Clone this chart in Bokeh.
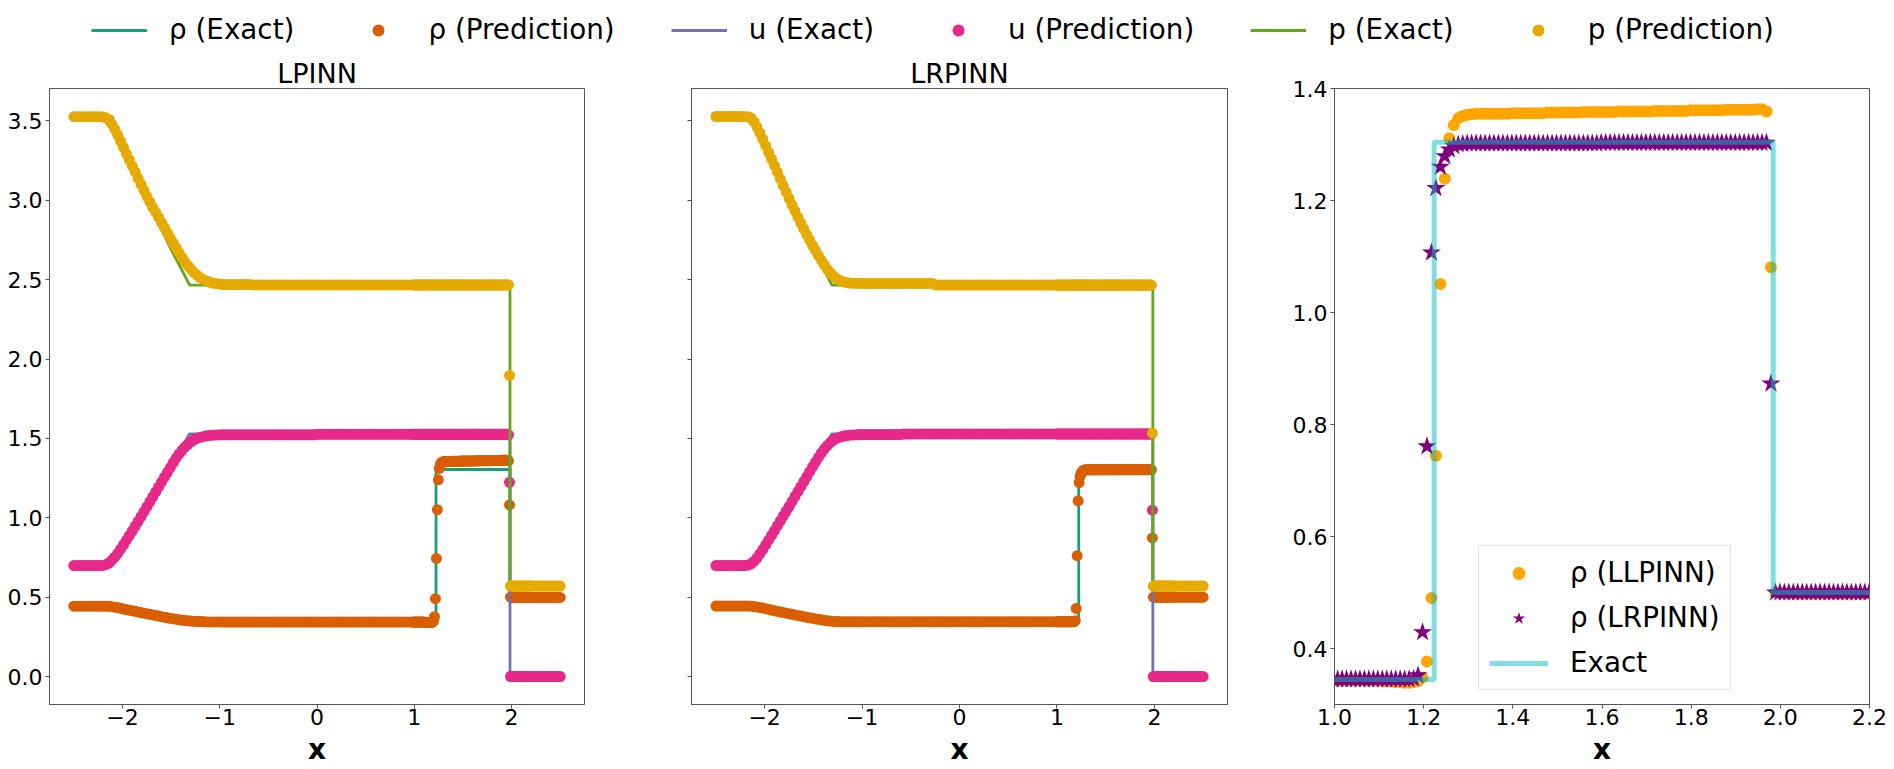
import numpy as np
from bokeh.plotting import figure
from bokeh.models import Legend, LegendItem, FixedTicker, Range1d, CustomJSTickFormatter
from bokeh.layouts import column, row
from bokeh.embed import file_html
from bokeh.resources import INLINE

# ---------------- data ----------------
# PINN sampling grid (500 points on [-2.5, 2.5]); the predictions are shown at a subset of it
x_grid = np.linspace(-2.5, 2.5, 500)
pred_index = np.r_[0:30:3, 30:141:3, 141:349:3, 349:470, 471:500:2]
zoom_index = np.arange(349, 470)          # the points with 1.0 <= x <= 2.2

# exact solution (vertices)
x_rho_exact = [-2.5, -2.107, -1.9, -1.7, -1.5, -1.309, 1.2235, 1.2235, 1.984, 1.984, 2.5]
rho_exact = [0.445, 0.445, 0.417, 0.391, 0.367, 0.3445, 0.3445, 1.304, 1.304, 0.5, 0.5]
x_u_exact = [-2.5, -2.107, -1.309, 1.984, 1.984, 2.5]
u_exact = [0.698, 0.698, 1.529, 1.529, 0.0, 0.0]
x_p_exact = [-2.5, -2.107, -1.9, -1.7, -1.5, -1.309, 1.984, 1.984, 2.5]
p_exact = [3.528, 3.528, 3.221, 2.946, 2.691, 2.466, 2.466, 0.571, 0.571]

# ---- LPINN (left panel) predictions ----
rho_lp_rare = [0.443, 0.443, 0.442, 0.440, 0.437, 0.434, 0.430, 0.426, 0.422, 0.418,
               0.415, 0.411, 0.407, 0.403, 0.399, 0.396, 0.392, 0.388, 0.385, 0.381,
               0.377, 0.374, 0.370, 0.367, 0.364, 0.361, 0.358, 0.355, 0.353, 0.351,
               0.349, 0.348, 0.347, 0.346, 0.346, 0.345, 0.344]
rho_lp_zoom = ([0.343] * 11 + [0.342, 0.341, 0.341, 0.340]
               + [0.340, 0.339, 0.339, 0.340, 0.342, 0.348, 0.377, 0.490, 0.744, 1.051,
                  1.239, 1.311, 1.335, 1.347, 1.351, 1.353, 1.354]
               + [1.355] * 8 + [1.356] * 8 + [1.357] * 8 + [1.358] * 8 + [1.359] * 8
               + [1.360] * 8 + [1.361] * 8 + [1.362] * 7
               + [1.363, 1.363, 1.359, 1.081, 0.500, 0.499, 0.499] + [0.498] * 19)
u_lp_rare = [0.700, 0.705, 0.715, 0.732, 0.752, 0.776, 0.803, 0.830, 0.859, 0.888,
             0.918, 0.948, 0.978, 1.008, 1.039, 1.070, 1.101, 1.132, 1.163, 1.194,
             1.225, 1.256, 1.286, 1.316, 1.348, 1.376, 1.402, 1.425, 1.446, 1.463,
             1.478, 1.490, 1.499, 1.506, 1.511, 1.515, 1.518]
u_lp_zoom = [1.526] * 97 + [1.522, 1.223] + [0.0] * 22
p_lp_rare = [3.525, 3.520, 3.505, 3.480, 3.448, 3.412, 3.372, 3.333, 3.293, 3.254,
             3.215, 3.177, 3.138, 3.100, 3.062, 3.025, 2.990, 2.955, 2.924, 2.892,
             2.860, 2.828, 2.795, 2.763, 2.732, 2.700, 2.670, 2.640, 2.612, 2.588,
             2.566, 2.546, 2.530, 2.515, 2.503, 2.494, 2.487]
p_lp_zoom = [2.467] * 98 + [1.897] + [0.570] * 22

# ---- LRPINN (middle panel) predictions ----
rho_lr_rare = [0.444, 0.444, 0.443, 0.441, 0.438, 0.435, 0.431, 0.427, 0.423, 0.419,
               0.415, 0.411, 0.407, 0.403, 0.399, 0.396, 0.392, 0.388, 0.385, 0.381,
               0.377, 0.374, 0.370, 0.367, 0.363, 0.360, 0.357, 0.354, 0.351, 0.349,
               0.347, 0.346, 0.346, 0.345, 0.345, 0.345, 0.345]
rho_lr_zoom = ([0.345] * 18
               + [0.346, 0.352, 0.429, 0.761, 1.107, 1.222, 1.260, 1.279, 1.291, 1.297,
                  1.300, 1.301]
               + [1.302] * 30 + [1.303] * 38 + [0.873] + [0.500] * 22)
u_lr_rare = [0.699, 0.702, 0.710, 0.725, 0.746, 0.772, 0.800, 0.829, 0.859, 0.889,
             0.919, 0.950, 0.980, 1.011, 1.041, 1.072, 1.103, 1.134, 1.165, 1.196,
             1.227, 1.258, 1.289, 1.320, 1.350, 1.380, 1.408, 1.433, 1.455, 1.473,
             1.487, 1.498, 1.506, 1.512, 1.516, 1.519, 1.521]
u_lr_zoom = [1.528] * 98 + [1.048] + [0.0] * 22
p_lr_rare = [3.527, 3.526, 3.518, 3.495, 3.462, 3.425, 3.385, 3.344, 3.302, 3.260,
             3.219, 3.177, 3.135, 3.093, 3.052, 3.011, 2.971, 2.932, 2.894, 2.856,
             2.820, 2.784, 2.750, 2.716, 2.684, 2.652, 2.622, 2.594, 2.568, 2.545,
             2.526, 2.510, 2.498, 2.490, 2.484, 2.480, 2.478]
p_lr_zoom = [2.466] * 98 + [1.533] + [0.570] * 22


def series(*parts):
    vals = [v for part in parts for v in part]
    if len(vals) != len(pred_index):
        raise ValueError("series length %d != %d" % (len(vals), len(pred_index)))
    return vals


for z in (rho_lp_zoom, u_lp_zoom, p_lp_zoom, rho_lr_zoom, u_lr_zoom, p_lr_zoom):
    assert len(z) == len(zoom_index), len(z)

rho_lpinn = series([0.443] * 10, rho_lp_rare, [0.344] * 4 + [0.343] * 66, rho_lp_zoom, [0.498] * 15)
u_lpinn = series([0.699] * 10, u_lp_rare, [1.520, 1.521, 1.522, 1.523] + [1.523] * 32 + [1.526] * 34,
                 u_lp_zoom, [0.0] * 15)
p_lpinn = series([3.527] * 10, p_lp_rare, [2.481, 2.477, 2.474, 2.472] + [2.469] * 10 + [2.467] * 56,
                 p_lp_zoom, [0.570] * 15)

rho_lrpinn = series([0.444] * 10, rho_lr_rare, [0.345] * 70, rho_lr_zoom, [0.500] * 15)
u_lrpinn = series([0.699] * 10, u_lr_rare, [1.522, 1.523] + [1.524] * 15 + [1.528] * 53,
                  u_lr_zoom, [0.0] * 15)
p_lrpinn = series([3.528] * 10, p_lr_rare, [2.477, 2.477] + [2.476] * 26 + [2.466] * 42,
                  p_lr_zoom, [0.570] * 15)

x_pred = x_grid[pred_index]
x_zoom = x_grid[zoom_index]

# ---------------- styling ----------------
FONT = "DejaVu Sans"
FRAME = "#555555"
C_RHO_EX, C_RHO_PR = "#1b9e77", "#d95f02"
C_U_EX, C_U_PR = "#7570b3", "#e7298a"
C_P_EX, C_P_PR = "#66a61e", "#e6ab02"
LW = 2.8
MS = 11
LEG_H = 48
TOP = 40
BOTTOM = 65
H = TOP + 616 + BOTTOM

minus_fmt = CustomJSTickFormatter(code="return tick < 0 ? '\\u2212' + (-tick) : '' + tick;")
one_dec_fmt = CustomJSTickFormatter(code="return tick.toFixed(1);")


def make_fig(width, left, right, xr, yr, xticks, yticks, title=None):
    p = figure(width=width, height=H, x_range=xr, y_range=yr,
               toolbar_location=None, output_backend="svg",
               min_border_left=left, min_border_right=right,
               min_border_top=TOP, min_border_bottom=BOTTOM)
    p.grid.visible = False
    p.outline_line_color = FRAME
    p.outline_line_width = 1
    p.background_fill_color = "white"
    p.border_fill_color = "white"
    for ax in (p.xaxis[0], p.yaxis[0]):
        ax.axis_line_color = FRAME
        ax.major_tick_line_color = FRAME
        ax.major_tick_in = 0
        ax.major_tick_out = 4
        ax.minor_tick_line_color = None
        ax.major_label_text_font = FONT
        ax.major_label_text_font_size = "22px"
        ax.major_label_text_color = "black"
    p.xaxis.ticker = FixedTicker(ticks=xticks)
    p.yaxis.ticker = FixedTicker(ticks=yticks)
    p.xaxis.major_label_standoff = 0
    p.yaxis.major_label_standoff = 3
    p.xaxis.axis_label = "x"
    p.xaxis.axis_label_standoff = 5
    p.xaxis.axis_label_text_font = FONT
    p.xaxis.axis_label_text_font_size = "28px"
    p.xaxis.axis_label_text_font_style = "bold"
    p.xaxis.axis_label_text_color = "black"
    if title:
        p.title.text = title
        p.title.align = "center"
        p.title.text_font = FONT
        p.title.text_font_size = "27px"
        p.title.text_font_style = "normal"
        p.title.text_color = "black"
        p.title.standoff = 0
    return p


def draw_fields(p, rho, u, pp):
    p.line(x_rho_exact, rho_exact, line_color=C_RHO_EX, line_width=LW)
    p.scatter(x_pred, rho, size=MS, fill_color=C_RHO_PR, line_color=None)
    p.line(x_u_exact, u_exact, line_color=C_U_EX, line_width=LW)
    p.scatter(x_pred, u, size=MS, fill_color=C_U_PR, line_color=None)
    p.line(x_p_exact, p_exact, line_color=C_P_EX, line_width=LW)
    p.scatter(x_pred, pp, size=MS, fill_color=C_P_PR, line_color=None)


xticks12 = [-2, -1, 0, 1, 2]
yticks12 = [0.0, 0.5, 1.0, 1.5, 2.0, 2.5, 3.0, 3.5]

p1 = make_fig(594, 49, 10, Range1d(-2.75, 2.75), Range1d(-0.1764, 3.7044), xticks12, yticks12, "LPINN")
p1.xaxis.formatter = minus_fmt
p1.yaxis.formatter = one_dec_fmt
draw_fields(p1, rho_lpinn, u_lpinn, p_lpinn)

p2 = make_fig(643, 97, 10, Range1d(-2.75, 2.75), Range1d(-0.1764, 3.7044), xticks12, yticks12, "LRPINN")
p2.xaxis.formatter = minus_fmt
p2.yaxis.major_label_overrides = {t: "" for t in yticks12}
draw_fields(p2, rho_lrpinn, u_lrpinn, p_lrpinn)

p3 = make_fig(652, 97, 20, Range1d(1.0, 2.2), Range1d(0.3, 1.4),
              [1.0, 1.2, 1.4, 1.6, 1.8, 2.0, 2.2], [0.4, 0.6, 0.8, 1.0, 1.2, 1.4])
p3.xaxis.formatter = one_dec_fmt
p3.yaxis.formatter = one_dec_fmt
r_ll = p3.scatter(x_zoom, rho_lp_zoom, size=12, fill_color="#ffa500", line_color=None)
r_lr = p3.scatter(x_zoom, rho_lr_zoom, size=20, marker="star", fill_color="#800080", line_color=None)
r_ex = p3.line(x_rho_exact, rho_exact, line_color="#00bfbf", line_alpha=0.5, line_width=5)
leg3 = Legend(items=[LegendItem(label="ρ (LLPINN)", renderers=[r_ll]),
                     LegendItem(label="ρ (LRPINN)", renderers=[r_lr]),
                     LegendItem(label="Exact", renderers=[r_ex])],
              location=(144, 14), orientation="vertical", padding=10, spacing=12, margin=0,
              glyph_width=59, glyph_height=32, label_height=32, label_standoff=22,
              label_text_font=FONT, label_text_font_size="27.8px", label_text_color="black",
              border_line_color="#cccccc", border_line_width=1,
              background_fill_color="white", background_fill_alpha=0.8)
p3.add_layout(leg3)

# ---------------- top legend ----------------
lf = figure(width=1889, height=LEG_H, x_range=Range1d(0, 1), y_range=Range1d(0, 1),
            toolbar_location=None, output_backend="svg", min_border=0,
            x_axis_location=None, y_axis_location=None)
lf.outline_line_color = None
lf.grid.visible = False
nan = [np.nan]
d1 = lf.line(nan, nan, line_color=C_RHO_EX, line_width=LW)
d2 = lf.scatter(nan, nan, fill_color=C_RHO_PR, line_color=None)
d3 = lf.line(nan, nan, line_color=C_U_EX, line_width=LW)
d4 = lf.scatter(nan, nan, fill_color=C_U_PR, line_color=None)
d5 = lf.line(nan, nan, line_color=C_P_EX, line_width=LW)
d6 = lf.scatter(nan, nan, fill_color=C_P_PR, line_color=None)
top_leg = Legend(items=[LegendItem(label="ρ (Exact)", renderers=[d1]),
                        LegendItem(label="ρ (Prediction)", renderers=[d2]),
                        LegendItem(label="u (Exact)", renderers=[d3]),
                        LegendItem(label="u (Prediction)", renderers=[d4]),
                        LegendItem(label="p (Exact)", renderers=[d5]),
                        LegendItem(label="p (Prediction)", renderers=[d6])],
                 orientation="horizontal", location=(91, 2), padding=0, margin=0,
                 spacing=56, glyph_width=56, glyph_height=30, label_height=32, label_standoff=22,
                 label_text_font=FONT, label_text_font_size="27.8px", label_text_color="black",
                 border_line_color=None, background_fill_alpha=0)
lf.add_layout(top_leg)

layout = column(lf, row(p1, p2, p3))
open("out.html", "w").write(file_html(layout, INLINE))
